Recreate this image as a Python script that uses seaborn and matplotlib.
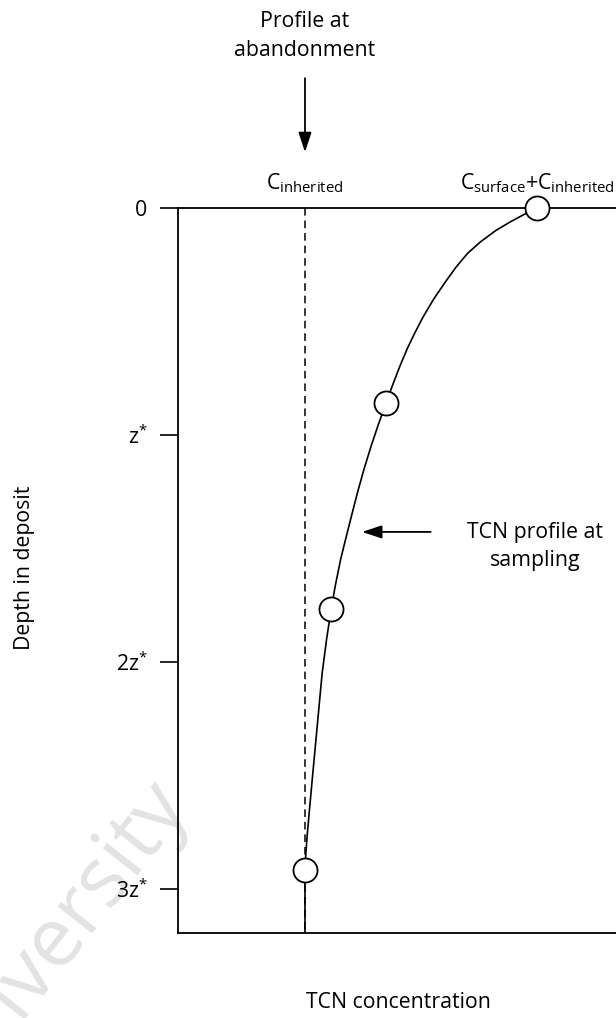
import numpy as np
import pandas as pd
import matplotlib
matplotlib.use("Agg")
import matplotlib.pyplot as plt
import seaborn as sns

# ---- data (concentration in units of C_inherited, depth in units of z*) ----
curve_depth = [0.00, 0.03, 0.06, 0.10, 0.15, 0.20, 0.26, 0.33, 0.40, 0.48, 0.55,
               0.62, 0.70, 0.78, 0.86, 0.95, 1.05, 1.15, 1.25, 1.37, 1.47, 1.55,
               1.66, 1.77, 1.90, 2.05, 2.20, 2.35, 2.50, 2.64, 2.76, 2.84, 2.916, 3.194]
curve_conc = [2.827, 2.720, 2.620, 2.500, 2.380, 2.280, 2.190, 2.100, 2.015, 1.930, 1.865,
              1.805, 1.745, 1.690, 1.638, 1.580, 1.520, 1.465, 1.415, 1.360, 1.315, 1.280,
              1.240, 1.205, 1.170, 1.135, 1.110, 1.085, 1.060, 1.037, 1.018, 1.007, 1.000, 1.000]
sample_depth = [0.0, 0.859, 1.767, 2.916]
sample_conc = [2.827, 1.638, 1.205, 1.000]
c_inherited = 1.0
inherited_depth = [0.0, 3.194]
ytick_pos = [0, 1, 2, 3]
ytick_labels = ["0", "z$^{*}$", "2z$^{*}$", "3z$^{*}$"]
x_max = 3.449
depth_max = 3.194

sns.set_theme(style="white")
plt.rcParams["font.family"] = ["Open Sans", "DejaVu Sans"]
plt.rcParams["mathtext.fontset"] = "custom"
plt.rcParams["mathtext.rm"] = "Open Sans"
plt.rcParams["mathtext.it"] = "Open Sans:italic"
plt.rcParams["mathtext.bf"] = "Open Sans:bold"
plt.rcParams["mathtext.default"] = "regular"

FS = 15.3
fig = plt.figure(figsize=(6.16, 10.18), dpi=100)
fig.patch.set_facecolor("white")

# watermark (behind everything)
fig.text(188 / 616, 1 - 802 / 1018, "University", rotation=52, color="#e3e3e3",
         fontsize=60, ha="right", va="baseline", rotation_mode="anchor", zorder=-5)

ax = fig.add_axes([178 / 616, 85 / 1018, 438 / 616, 725 / 1018])
ax.set_facecolor("none")
ax.set_zorder(1)

inh = pd.DataFrame({"conc": [c_inherited] * len(inherited_depth), "depth": inherited_depth})
sns.lineplot(data=inh, x="conc", y="depth", sort=False, estimator=None, color="black",
             lw=1.1, ax=ax, zorder=2)
ax.lines[-1].set_dashes((5, 3.2))

prof = pd.DataFrame({"conc": curve_conc, "depth": curve_depth})
sns.lineplot(data=prof, x="conc", y="depth", sort=False, estimator=None, color="black",
             lw=1.2, ax=ax, zorder=3)

samp = pd.DataFrame({"conc": sample_conc, "depth": sample_depth})
sns.scatterplot(data=samp, x="conc", y="depth", s=300, color="white", edgecolor="black",
                linewidth=1.3, ax=ax, zorder=5, clip_on=False)

ax.set_xlim(0, x_max)
ax.set_ylim(depth_max, 0)
ax.set_xticks([])
ax.set_yticks(ytick_pos)
ax.set_yticklabels(ytick_labels, fontsize=FS)
ax.tick_params(axis="y", direction="out", length=13, width=1.2, pad=9, color="black",
               left=True, labelcolor="black")
for side in ["left", "top", "bottom"]:
    ax.spines[side].set_visible(True)
    ax.spines[side].set_color("black")
    ax.spines[side].set_linewidth(1.3)
ax.spines["right"].set_visible(False)

ax.set_xlabel("TCN concentration", fontsize=FS, color="black")
ax.xaxis.set_label_coords((398 - 178) / 438, (933 - 1003) / 725)
ax.xaxis.label.set_va("center")
ax.set_ylabel("Depth in deposit", fontsize=FS, color="black")
ax.yaxis.set_label_coords((25 - 178) / 438, (933 - 568) / 725)
ax.yaxis.label.set_va("center")

# annotations
ax.text(c_inherited, -0.08, "C$_{inherited}$", fontsize=FS, ha="center", va="baseline",
        color="black")
ax.text(sample_conc[0], -0.08, "C$_{surface}$+C$_{inherited}$", fontsize=FS, ha="center",
        va="baseline", color="black")
ax.annotate("", xy=(c_inherited, -0.246), xytext=(c_inherited, -0.572),
            arrowprops=dict(arrowstyle="-|>,head_length=1.0,head_width=0.33", color="black",
                            lw=1.3, shrinkA=0, shrinkB=0), annotation_clip=False)
ax.text(c_inherited, -0.758, "Profile at\nabandonment", fontsize=FS, ha="center",
        va="center", linespacing=1.45, color="black")

ax.annotate("", xy=(1.449, 1.427), xytext=(1.99, 1.427),
            arrowprops=dict(arrowstyle="-|>,head_length=1.0,head_width=0.33", color="black",
                            lw=1.3, shrinkA=0, shrinkB=0))
ax.text(2.81, 1.493, "TCN profile at\nsampling", fontsize=FS, ha="center", va="center",
        linespacing=1.45, color="black")

fig.savefig("out.png", dpi=100, facecolor="white")
